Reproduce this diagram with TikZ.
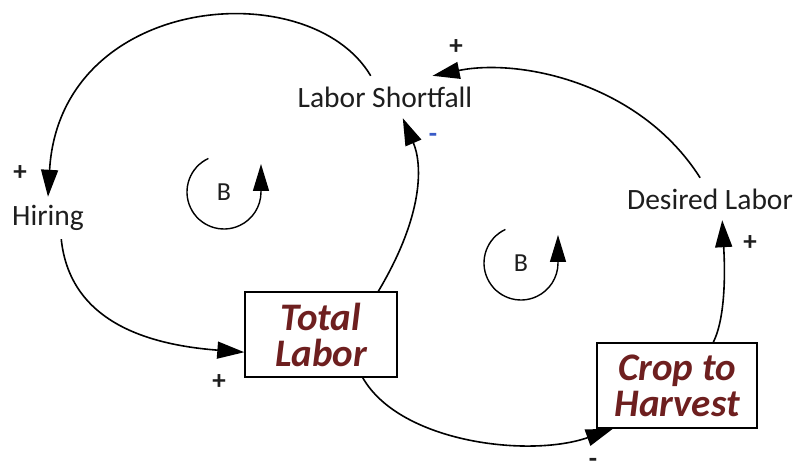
\documentclass[tikz,border=0pt]{standalone}
\usepackage{fontspec}
\setmainfont{Carlito}
\usetikzlibrary{arrows.meta}
\definecolor{ink}{HTML}{1E1E1E}
\definecolor{stockred}{HTML}{6E1F1F}
\definecolor{minusblue}{HTML}{3A5BC7}

\begin{document}
\begin{tikzpicture}[x=1pt,y=1pt,font=\fontsize{29.5}{32}\selectfont,text=ink,
  var/.style={inner sep=0pt,minimum height=42pt},
  stock/.style={draw=black,line width=1.4pt,fill=white,align=center,
    minimum width=152pt,minimum height=85pt,inner sep=0pt,text=stockred,
    font=\bfseries\itshape\fontsize{39}{36}\selectfont},
  link/.style={draw=black,line width=1.6pt,-{Triangle[length=27pt,width=17pt]}},
  sign/.style={font=\bfseries\fontsize{27}{27}\selectfont},
  looplabel/.style={font=\fontsize{26}{26}\selectfont},
  loopmark/.style={line width=1.4pt,-{Triangle[length=27pt,width=16pt]}}]
  \path[use as bounding box,fill=white] (0,0) rectangle (805,473);

  % variables and stocks
  \node[var,minimum width=190pt] (short) at (385,376) {Labor Shortfall};
  \node[var,minimum width=80pt] (hiring) at (48,255) {Hiring};
  \node[var,minimum width=170pt] (desired) at (710,274) {Desired Labor};
  \node[stock] (total) at (321,138.5) {Total\\Labor};
  \node[stock,minimum width=160pt] (crop) at (677,87.5) {Crop to\\Harvest};

  % loop markers
  \node[looplabel] (loopA) at (224,281) {B};
  \draw[loopmark] (loopA.center) ++(115:37) arc[start angle=115,end angle=360,radius=37] -- ++(0,28);
  \node[looplabel] (loopB) at (521,210) {B};
  \draw[loopmark] (loopB.center) ++(115:37) arc[start angle=115,end angle=360,radius=37] -- ++(0,28);

  % causal links
  \draw[link] (short.124) .. controls (310,500) and (60,480) .. (hiring.north);
  \draw[link] (hiring.-58) .. controls (70,150) and (150,128) .. (total.193);
  \draw[link] (total.37) .. controls (425,260) and (422,310) .. (short.-50);
  \draw[link] (total.-46) .. controls (400,30) and (530,15) .. (crop.214);
  \draw[link] (crop.50) .. controls (728,160) and (724,220) .. (desired.-60);
  \draw[link] (desired.115) .. controls (640,390) and (520,415) .. (short.24);

  % polarities
  \node[sign] (pHire) at (20,300) {+};
  \node[sign] (pTotal) at (219,91) {+};
  \node[sign] (pDesired) at (750,230) {+};
  \node[sign] (pShort) at (456,426) {+};
  \node[sign,text=minusblue] (mShort) at (433,335) {-};
  \node[sign] (mCrop) at (593,10) {-};
\end{tikzpicture}
\end{document}
